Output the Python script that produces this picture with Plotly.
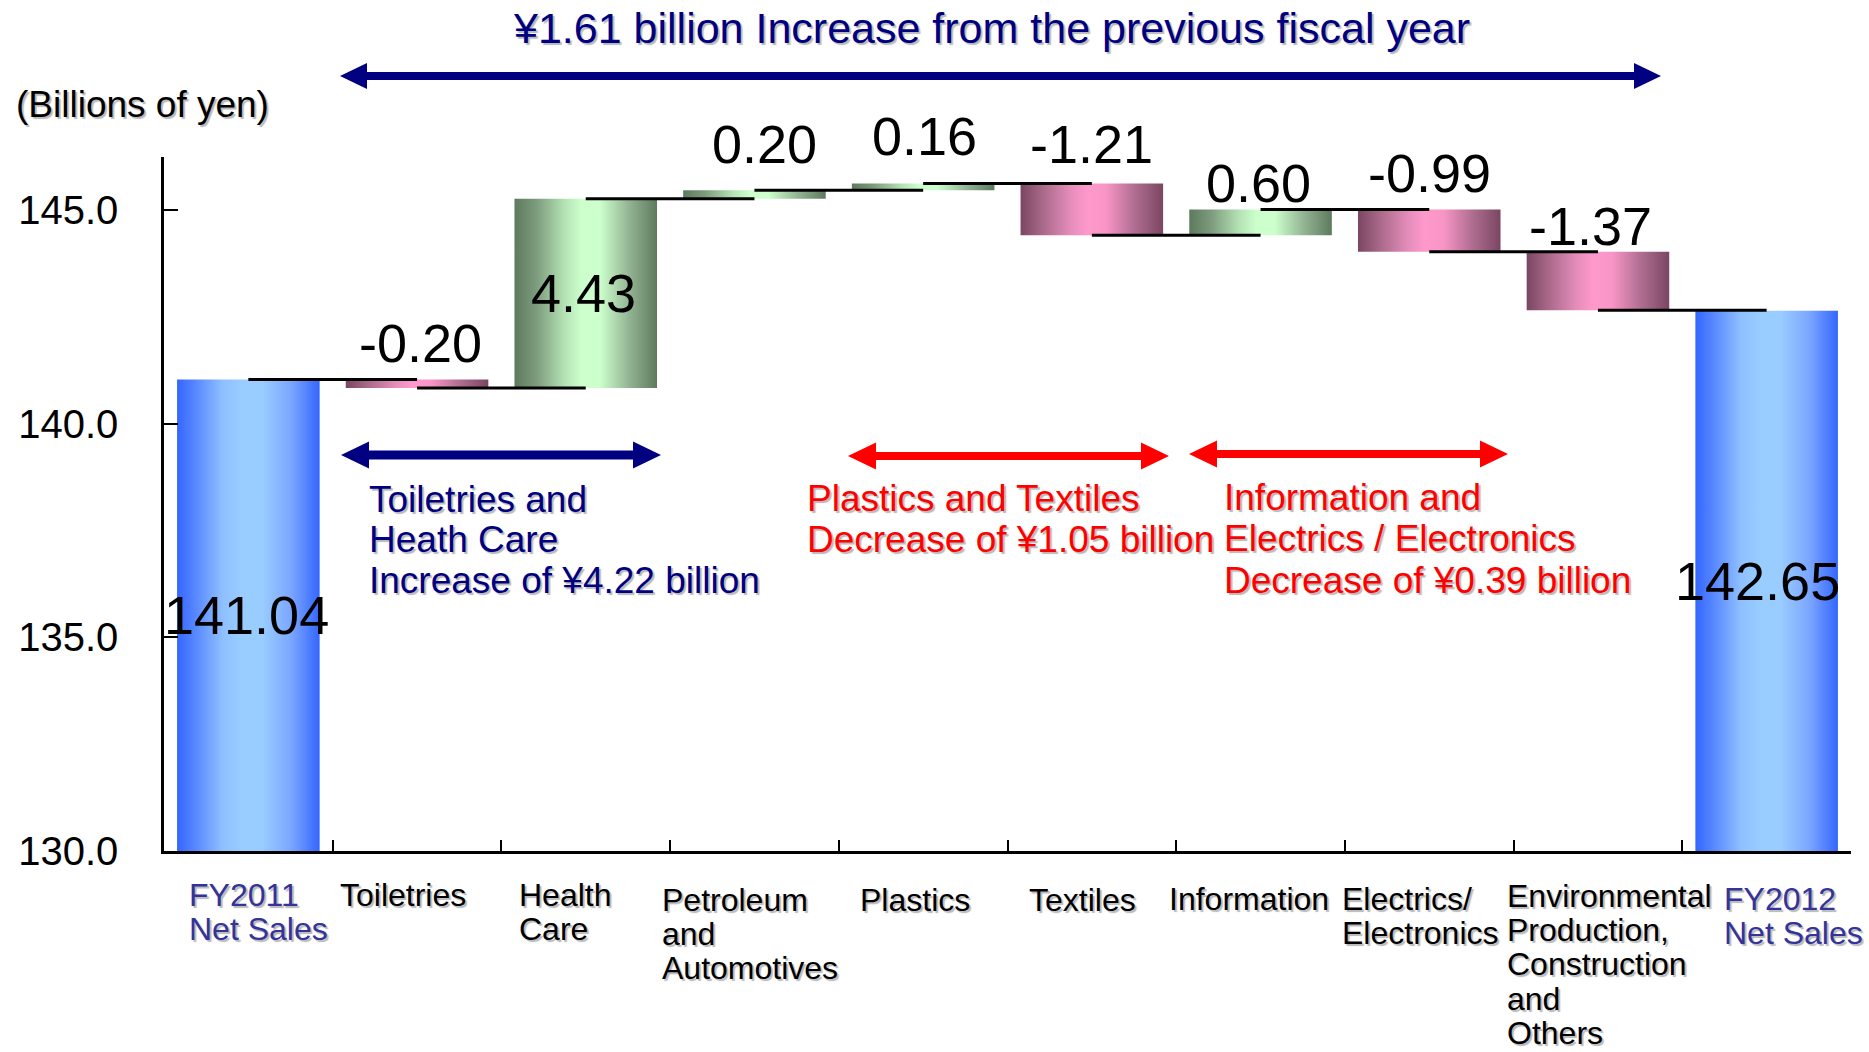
import plotly.graph_objects as go

# ---- data -----------------------------------------------------------------
categories = [
    "FY2011\nNet Sales",
    "Toiletries",
    "Health\nCare",
    "Petroleum\nand\nAutomotives",
    "Plastics",
    "Textiles",
    "Information",
    "Electrics/\nElectronics",
    "Environmental\nProduction,\nConstruction\nand\nOthers",
    "FY2012\nNet Sales",
]
start_total = 141.04
segment_changes = [-0.20, 4.43, 0.20, 0.16, -1.21, 0.60, -0.99, -1.37]
end_total = 142.65

y_ticks = [130.0, 135.0, 140.0, 145.0]
y_min, y_max = 130.0, 146.25

# ---- page geometry --------------------------------------------------------
W, H = 1869, 1052
M_L, M_R, M_T, M_B = 164, 18, 157, 201
PLOT_W = W - M_L - M_R
PLOT_H = H - M_T - M_B
X0_PX, Y0_PX = M_L, H - M_B


def px_x(x):
    return (x - X0_PX) / PLOT_W


def px_y(y):
    return (Y0_PX - y) / PLOT_H


FONT = "Liberation Sans, Arial, sans-serif"
SHADOW = "2px 2px 1px rgba(0,0,0,0.28)"
NAVY = "#000080"
RED = "#FF0000"
LABEL_BLUE = "#333399"

BAR_W = 0.845

BLUE_SCALE = [[0.0, "#3366FF"], [0.12, "#5585FF"], [0.32, "#8EC0FF"], [0.45, "#99CCFF"],
              [0.6, "#99CCFF"], [0.8, "#7BA6FF"], [1.0, "#3366FF"]]
GREEN_SCALE = [[0.0, "#5E7A5E"], [0.15, "#7C9A7C"], [0.35, "#B4E2B4"], [0.47, "#CCFFCC"],
               [0.6, "#CCFFCC"], [0.8, "#94B594"], [1.0, "#5E7A5E"]]
PINK_SCALE = [[0.0, "#7A4662"], [0.15, "#A86888"], [0.35, "#E48DBA"], [0.47, "#FF99CC"],
              [0.6, "#F895C6"], [0.8, "#B06E91"], [1.0, "#7A4662"]]

fig = go.Figure()

# ---- bars (lo, hi, colour scale) -------------------------------------------
bars = [(0.0, start_total, BLUE_SCALE)]
levels = [start_total]
level = start_total
for d in segment_changes:
    new = level + d
    bars.append((min(level, new), max(level, new), GREEN_SCALE if d >= 0 else PINK_SCALE))
    level = new
    levels.append(level)
bars.append((0.0, end_total, BLUE_SCALE))

for i, (lo, hi, scale) in enumerate(bars):
    xl, xr = i - BAR_W / 2, i + BAR_W / 2
    fig.add_trace(go.Scatter(
        x=[xl, xr, xr, xl, xl], y=[lo, lo, hi, hi, lo],
        mode="none", fill="toself",
        fillgradient=dict(type="horizontal", colorscale=scale),
        hoverinfo="skip", showlegend=False,
    ))

# ---- connector lines between bar centres -----------------------------------
cx, cy = [], []
for i, lv in enumerate(levels):
    cx += [i, i + 1, None]
    cy += [lv, lv, None]
fig.add_trace(go.Scatter(x=cx, y=cy, mode="lines",
                         line=dict(color="black", width=3),
                         hoverinfo="skip", showlegend=False))

# ---- value labels ----------------------------------------------------------
values = [start_total] + segment_changes + [end_total]
inside = {0, 2, 9}
label_lift = [0, 37, 0, 46, 47, 39, 27, 37, 26, 0]
label_dx = [-2, 3, -2, 10, 1, 0, -2, 0, -7, -9]
annotations = []
for i, ((lo, hi, _), v) in enumerate(zip(bars, values)):
    if i in inside:
        y = (max(lo, y_min) + hi) / 2
        shift = 0
    else:
        y = hi
        shift = label_lift[i]
    annotations.append(dict(
        x=i, y=y, xref="x", yref="y", text=f"{v:.2f}", showarrow=False,
        xanchor="center", yanchor="middle", xshift=label_dx[i], yshift=shift,
        font=dict(family=FONT, size=54, color="black"),
    ))

# ---- category labels (left-aligned blocks under each category) -------------
cat_dx = [-61, -79, -69, -94, -65, -65, -94, -89, -93, -45]
cat_dy = [44, 44, 44, 49, 49, 49, 48, 48, 45, 48]
LINE_STEP = 34.2
for i, name in enumerate(categories):
    colour = LABEL_BLUE if name.startswith("FY") else "black"
    for k, line in enumerate(name.split("\n")):
        annotations.append(dict(
            x=i, y=y_min, xref="x", yref="y", text=line, showarrow=False,
            xanchor="left", yanchor="middle", xshift=cat_dx[i],
            yshift=-(cat_dy[i] + k * LINE_STEP),
            font=dict(family=FONT, size=32, color=colour, shadow=SHADOW),
        ))

# ---- text notes -------------------------------------------------------------
def note(lines, left_px, first_center_px, colour, size, step):
    for k, line in enumerate(lines):
        annotations.append(dict(
            x=px_x(left_px), y=px_y(first_center_px + k * step),
            xref="paper", yref="paper", text=line, showarrow=False,
            xanchor="left", yanchor="middle",
            font=dict(family=FONT, size=size, color=colour, shadow=SHADOW),
        ))


note(["Toiletries and", "Heath Care", "Increase of ¥4.22 billion"], 367, 499, NAVY, 37, 40.5)
note(["Plastics and Textiles", "Decrease of ¥1.05 billion"], 805, 498, RED, 37, 41)
note(["Information and", "Electrics / Electronics", "Decrease of ¥0.39 billion"], 1222, 497, RED, 37, 41.5)
note(["(Billions of yen)"], 14, 104, "black", 37, 0)

annotations.append(dict(
    x=px_x(991), y=px_y(28), xref="paper", yref="paper",
    text="¥1.61 billion Increase from the previous fiscal year", showarrow=False,
    xanchor="center", yanchor="middle",
    font=dict(family=FONT, size=43, color=NAVY, shadow=SHADOW),
))

# ---- double-headed arrows --------------------------------------------------
def double_arrow(x_left, x_right, y, colour, shaft=8, head_len=28, head_half=13.5):
    pts = [
        (x_left, y),
        (x_left + head_len, y - head_half),
        (x_left + head_len, y - shaft / 2),
        (x_right - head_len, y - shaft / 2),
        (x_right - head_len, y - head_half),
        (x_right, y),
        (x_right - head_len, y + head_half),
        (x_right - head_len, y + shaft / 2),
        (x_left + head_len, y + shaft / 2),
        (x_left + head_len, y + head_half),
    ]
    path = "M " + " L ".join(f"{px_x(a):.5f},{px_y(b):.5f}" for a, b in pts) + " Z"
    return dict(type="path", path=path, xref="paper", yref="paper",
                fillcolor=colour, line=dict(width=0), layer="above")


shapes = [
    double_arrow(340, 1661, 76, NAVY, shaft=8, head_len=27, head_half=13),
    double_arrow(341, 661, 455, NAVY, shaft=9),
    double_arrow(848, 1169, 456, RED),
    double_arrow(1189, 1508, 454, RED),
]

fig.update_layout(
    width=W, height=H,
    margin=dict(l=M_L, r=M_R, t=M_T, b=M_B, autoexpand=False),
    paper_bgcolor="white", plot_bgcolor="white",
    font=dict(family=FONT, color="black"),
    showlegend=False,
    annotations=annotations,
    shapes=shapes,
    xaxis=dict(
        range=[-0.5, len(categories) - 0.5], showgrid=False, zeroline=False,
        showline=True, linecolor="black", linewidth=2.5,
        tickmode="array", tickvals=[i + 0.5 for i in range(len(categories) - 1)],
        ticks="inside", ticklen=11, tickwidth=2, tickcolor="black",
        showticklabels=False,
    ),
    yaxis=dict(
        range=[y_min, y_max], showgrid=False, zeroline=False,
        showline=True, linecolor="black", linewidth=2.5,
        tickmode="array", tickvals=y_ticks, ticktext=[f"{t:.1f}" for t in y_ticks],
        ticks="inside", ticklen=14, tickwidth=2, tickcolor="black",
        tickfont=dict(family=FONT, size=40, color="black"),
        ticklabelstandoff=35,
    ),
)

fig.write_html("out.html")
